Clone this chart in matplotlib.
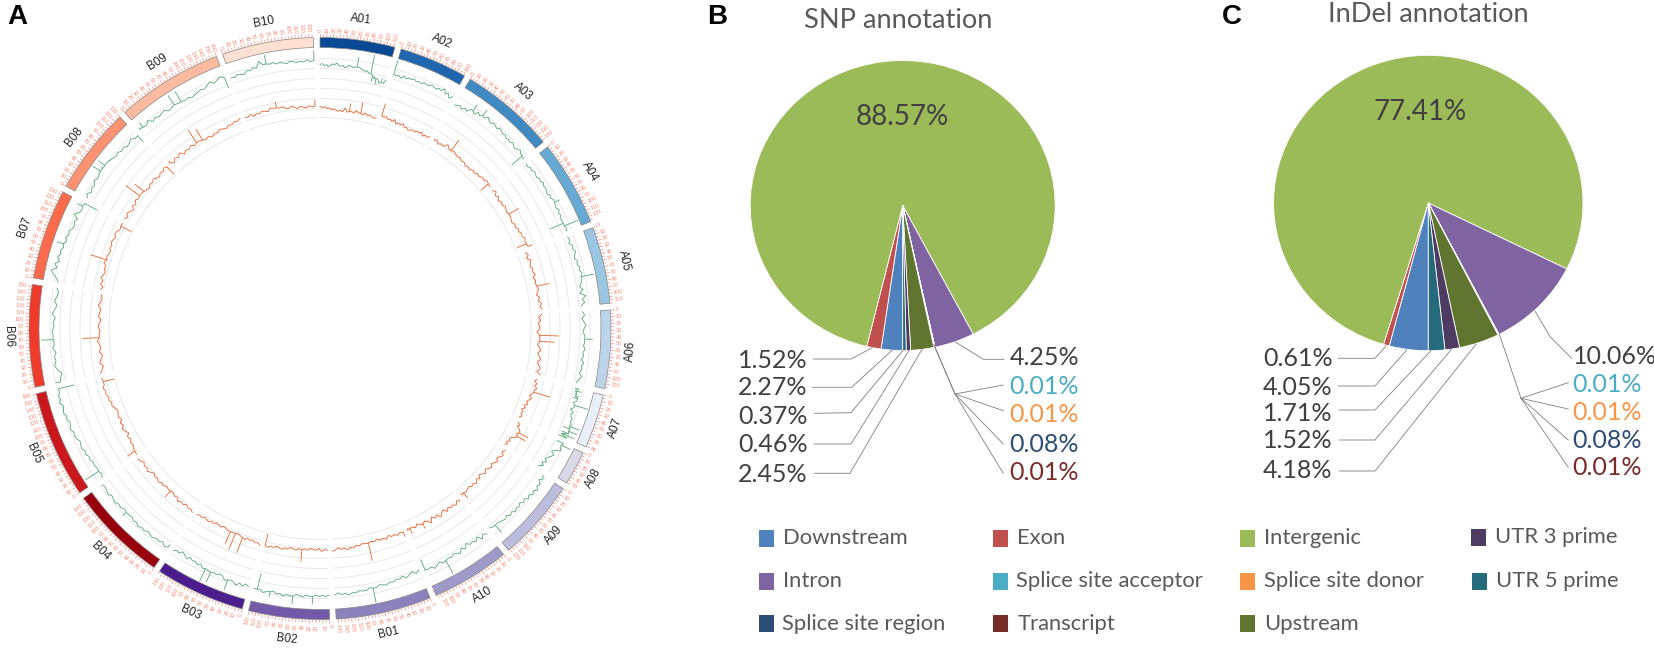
import numpy as np
import matplotlib
matplotlib.use('Agg')
import matplotlib.pyplot as plt

W, H = 1654, 649

# ---- panel A data
chroms = ['A01','A02','A03','A04','A05','A06','A07','A08','A09','A10',
          'B01','B02','B03','B04','B05','B06','B07','B08','B09','B10']
chrom_mb = [112,102,143,128,115,117,81,51,122,117,143,121,135,147,161,153,135,130,160,137]
chrom_cols = ['#0a4a94','#1f66ae','#3f8ac2','#66a9d2','#9bc6e1','#bcd3ea','#e8eefa','#d9d9ea','#bcbddc','#9e9ac8',
              '#8b82bd','#7359a8','#4c1d8c','#99000d','#cb181d','#ef3b2c','#fb6a4a','#fc9272','#fcbba1','#fee0d2']

g_A01 = [264,265,263,264,262,263,265,264,266,264,263,264,262,263,265,264,263,264,274,264,263,262,261,262,260,279,252,258,250,256,252,258,253,257]
g_A02 = [279,264,265,263,266,264,266,265,267,265,266,265,267,266,266,268,267,266,268,267,270,266,268,264,267]
g_A03 = [261,262,263,261,264,262,266,273,264,268,266,275,267,270,268,267,269,268,267,269,268,267,268,266,267,266,268,266,265,267,268,266,252,264]
g_A04 = [264,263,265,264,266,265,264,266,265,267,265,266,265,264,266,265,267,272,266,265,267,265,266,264,265,251,280,266,265]
g_A05 = [264,265,263,266,265,267,265,264,266,265,267,266,268,279,266,265,263,266,262,268,264,266,262]
g_A06 = [263,265,262,264,266,264,263,265,273,265,264,266,264,265,263,266,264,265,263,266,264,262]
g_A07 = [262,269,263,268,262,267,264,280,266,263,267,265,266,268,267,269,279,262,278,263,277,261]
g_A08 = [262,278,268,270,265,262,266,264,262,260,263,259,262,258]
g_A09 = [267,269,266,270,268,271,268,270,267,269,266,268,265,267,266,268,265,267,264,266,265,264,263,273,263,262]
g_A10 = [265,262,266,261,264,262,263,260,264,261,265,263,262,264,263,279,265,262,264,266,263,264,252]
g_B01 = [261,263,260,262,264,261,263,262,264,263,265,264,263,265,280,264,266,266,265,267,266,268,266,267,265,267]
g_B02 = [267,268,267,268,267,276,268,267,269,268,267,277,269,268,270,268,269,267,273,268,270,268,252,268]
g_B03 = [268,266,269,267,270,268,267,278,269,266,265,267,266,278,266,280,267,264,266,264,265,263,266,264,262,265,264,266]
g_B04 = [263,268,265,267,266,268,267,266,268,267,269,267,268,266,267,272,266,268,267,269,268,267,269,268,267,268]
g_B05 = [264,262,279,263,264,263,265,264,266,265,267,266,265,267,268,267,269,268,267,269,268,270,269,268,271,269,270,268,252]
g_B06 = [270,264,262,266,268,266,267,265,268,266,279,267,268,266,267,265,268,266,264,267,265,264,266]
g_B07 = [266,268,272,275,270,273,269,272,270,271,269,277,268,270,268,269,267,266,268,266,271,267,266,273,252]
g_B08 = [267,269,266,268,267,270,268,269,279,272,278,270,269,268,267,268,266,267,265,266,268,265,257]
g_B09 = [268,274,267,270,266,268,266,267,268,265,266,278,267,278,265,266,264,265,266,267,266,268,270,267,269,271,257]
g_B10 = [266,265,267,266,265,268,267,269,268,274,270,279,269,270,268,269,268,267,269,268,267,268,267,269,267,278]

o_A01 = [222,221,222,220,221,219,220,219,218,219,218,222,218,227,219,218,221,219,230,218,220,218,219,218,217,218]
o_A02 = [234,221,222,220,221,219,222,218,220,219,221,218,219,217,218,219,218,220,219,221,218,220,219,221]
o_A03 = [220,222,219,221,220,224,221,234,222,221,220,221,219,220,218,219,218,220,219,221,220,222,221,223,212,222]
o_A04 = [221,223,220,222,219,221,220,222,221,220,232,221,220,219,221,220,222,221,223,222,224,223,213,228]
o_A05 = [219,221,218,222,220,219,221,220,222,219,221,220,234,222,221,219,222,220,223,221,223]
o_A06 = [222,219,221,218,220,219,217,239,220,235,218,220,222,219,221,223,220,222,224,221,225]
o_A07 = [223,221,224,222,225,223,240,222,220,223,221,219,221,218,220,217,219,218,220,218]
o_A08 = [219,222,220,223,225,235,222,234,224,220,219,221,218,220,218]
o_A09 = [222,220,223,221,219,222,220,218,221,219,217,220,218,216,219,217,220,218,219,217,218,219,225,217]
o_A10 = [222,220,223,221,222,220,223,219,221,224,220,222,219,224,221,219,226,220,218,221,219,225,218]
o_B01 = [225,219,221,219,220,218,221,219,220,218,220,219,238,220,219,221,220,222,221,223,221,222,220,222,223]
o_B02 = [222,221,223,220,222,221,220,222,221,234,221,223,222,221,223,222,224,223,222,224,223,225,212]
o_B03 = [225,223,224,222,223,222,224,239,222,221,239,222,235,222,221,220,222,221,220,222,221,223,222,221,223,222,223]
o_B04 = [224,222,223,221,223,222,224,221,222,220,229,221,220,222,221,223,221,222,220,222,224,222,223,221,223,224]
o_B05 = [223,231,222,220,221,219,221,218,220,222,219,221,218,220,219,218,220,222,221,223,222,224,223,225,223,212,224]
o_B06 = [224,222,220,223,221,219,222,220,221,223,238,221,220,222,221,219,222,221,220,223,221,220,221]
o_B07 = [223,221,224,222,225,223,222,224,223,226,241,225,224,223,225,224,226,225,224,226,225,223,212,224]
o_B08 = [224,222,225,223,221,224,222,225,223,241,224,235,222,221,223,222,224,222,221,223,222,224,212]
o_B09 = [226,221,224,222,225,221,223,222,224,222,238,223,235,221,222,220,222,221,223,222,221,223,222,224,223,225]
o_B10 = [224,223,225,222,224,223,225,224,223,226,225,231,224,225,223,222,224,223,221,223,222,221,223,222,229]

green_tracks = [g_A01,g_A02,g_A03,g_A04,g_A05,g_A06,g_A07,g_A08,g_A09,g_A10,
                g_B01,g_B02,g_B03,g_B04,g_B05,g_B06,g_B07,g_B08,g_B09,g_B10]
orange_tracks = [o_A01,o_A02,o_A03,o_A04,o_A05,o_A06,o_A07,o_A08,o_A09,o_A10,
                 o_B01,o_B02,o_B03,o_B04,o_B05,o_B06,o_B07,o_B08,o_B09,o_B10]
grid_r = [211,220,230,240,250,260,270]

# ---- panels B and C data
pie_names = ['Downstream','Exon','Intergenic','Intron','Splice site acceptor','Splice site donor',
             'Splice site region','Transcript','Upstream','UTR 3 prime','UTR 5 prime']
pie_cols = ['#4f81bd','#c0504d','#9bbb59','#8064a2','#4bacc6','#f79646',
            '#2c4d75','#772c2a','#5f7530','#4d3b62','#276a7c']
snp_vals = [2.27,1.52,88.57,4.25,0.01,0.01,0.08,0.01,2.45,0.46,0.37]
indel_vals = [4.05,0.61,77.41,10.06,0.01,0.01,0.08,0.01,4.18,1.52,1.71]

dark = '#404040'
gray_txt = '#595959'

fig = plt.figure(figsize=(W/100, H/100), dpi=100)

# panel A, r on this axes is in pixels
cx, cy, R = 320, 328.5, 320
ax = fig.add_axes([(cx-R)/W, 1-(cy+R)/H, 2*R/W, 2*R/H], projection='polar')
ax.set_theta_zero_location('N')
ax.set_theta_direction(-1)
ax.set_rlim(0, R)
ax.set_axis_off()


def draw_track(vals, a0, a1, col):
    # spikes go straight out from the local level as thin radial lines
    th = np.radians(np.linspace(a0, a1, len(vals)))
    v = np.array(vals, dtype=float)
    level = v.copy()
    spikes = []
    for i in range(len(v)):
        nb = v[max(i-1, 0):i].tolist() + v[i+1:i+2].tolist()
        d = v[i] - np.array(nb)
        if np.all(d >= 5) or np.all(d <= -5):
            level[i] = np.median(v[max(i-3, 0):i+4])
            spikes.append(i)
    ax.plot(th, level, color=col, lw=0.6, zorder=2)
    ax.vlines(th[spikes], level[spikes], v[spikes], color=col, lw=0.6, zorder=2)


gap = 1.3
scale = (360 - gap*len(chroms))/sum(chrom_mb)
start = 0.0
for name, mb, col, gv, ov in zip(chroms, chrom_mb, chrom_cols, green_tracks, orange_tracks):
    end = start + mb*scale
    mid = (start+end)/2
    th = np.radians(np.linspace(start, end, 50))
    for r in grid_r:
        ax.plot(th, [r]*len(th), color='#e8e8e8', lw=0.7, zorder=1)
    ax.bar(np.radians(mid), 10, width=np.radians(end-start), bottom=281, color=col,
           edgecolor='#858585', lw=0.5, zorder=3)
    draw_track(gv, start, end, '#55a878')
    draw_track(ov, start, end, '#e8652e')

    # scale around the band
    for t in range(0, mb+1, 5):
        a = start + t*scale
        major = t % 10 == 0
        ax.plot([np.radians(a)]*2, [292, 294.5 if major else 293.5], color='#f79a8a', lw=0.6, zorder=2)
        if major:
            if a < 180:
                rot, ha = 90-a, 'left'
            else:
                rot, ha = 270-a, 'right'
            ax.text(np.radians(a), 296, str(t), fontsize=4, color='#f68c7a', rotation=rot, ha=ha, va='center',
                    rotation_mode='anchor', family='Liberation Sans')

    if mid < 90:
        rot = -mid
    elif mid < 270:
        rot = 180-mid
    else:
        rot = 360-mid
    ax.text(np.radians(mid), 312, name, fontsize=8.5, color='#222222', rotation=rot, ha='center', va='center',
            rotation_mode='anchor', family='Liberation Sans')
    start = end + gap


def draw_pie(vals, px, py, rx, ry):
    a = fig.add_axes([(px-rx)/W, 1-(py+ry)/H, 2*rx/W, 2*ry/H])
    a.pie(vals, colors=pie_cols, startangle=270, counterclock=False,
          wedgeprops={'edgecolor':'white', 'lw':0.6, 'clip_on':False})
    a.set_aspect('auto')
    a.set_xlim(-1, 1)
    a.set_ylim(-1, 1)


draw_pie(snp_vals, 902.7, 205.5, 152.5, 145)
draw_pie(indel_vals, 1428.3, 203, 154.7, 147.7)

# overlay in pixel coordinates for texts, leaders and legend
top = fig.add_axes([0, 0, 1, 1], facecolor='none')
top.set_xlim(0, W)
top.set_ylim(H, 0)
top.axis('off')

for s, x, y in [('A', 7, 17), ('B', 707, 17.5), ('C', 1222, 17)]:
    top.text(x, y, s, fontsize=20, fontweight='bold', family='Liberation Sans', color='black', ha='left', va='center')

top.text(898, 20, 'SNP annotation', fontsize=19.6, color=gray_txt, family='Lato', ha='center', va='center')
top.text(1428, 15, 'InDel annotation', fontsize=19.6, color=gray_txt, family='Lato', ha='center', va='center')
top.text(902, 117, '88.57%', fontsize=20, color=dark, family='Lato', ha='center', va='center')
top.text(1420, 112, '77.41%', fontsize=20, color=dark, family='Lato', ha='center', va='center')

label_cols = [dark, '#4bacc6', '#f79646', '#2c4d75', '#772c2a']

snp_left = ['1.52%','2.27%','0.37%','0.46%','2.45%']
snp_right = ['4.25%','0.01%','0.01%','0.08%','0.01%']
indel_left = ['0.61%','4.05%','1.71%','1.52%','4.18%']
indel_right = ['10.06%','0.01%','0.01%','0.08%','0.01%']

for s, y in zip(snp_left, [360,387.3,416,444.3,474.3]):
    top.text(807.7, y, s, fontsize=18, color=dark, family='Lato', ha='right', va='center')
for s, y, c in zip(snp_right, [357.7,386,415,444.3,472.7], label_cols):
    top.text(1009.3, y, s, fontsize=18, color=c, family='Lato', ha='left', va='center')
for s, y in zip(indel_left, [359,387.3,413.3,441,471]):
    top.text(1332.7, y, s, fontsize=18, color=dark, family='Lato', ha='right', va='center')
for s, y, c in zip(indel_right, [356.7,384,412.3,440.7,467.7], label_cols):
    top.text(1572.7, y, s, fontsize=18, color=c, family='Lato', ha='left', va='center')

leaders = [
    [(872.3,347.7),(851,359),(813.3,359)],
    [(892.3,350),(851.7,387.3),(812.7,387.3)],
    [(903.3,350),(851,412.7),(814.3,413.3)],
    [(909.3,350),(851,444),(814.3,444)],
    [(922,349.3),(850,473.3),(814.3,473.3)],
    [(955,341.7),(983.3,359.3),(1004,359.3)],
    [(934,345),(955,394),(1003.3,385)],
    [(955,394),(1003.3,410.7)],
    [(955,394),(1003.3,444)],
    [(934,345),(955,394),(1003.3,473.3)],
    [(1386,346),(1375,358.3),(1338.3,358.3)],
    [(1406.7,350),(1375,386),(1338.3,386)],
    [(1431,350.7),(1375,410),(1339.3,410)],
    [(1451.7,349),(1375,440),(1339.3,440)],
    [(1476,344.3),(1375,471),(1339.3,471)],
    [(1535,311),(1550,336.7),(1571.7,358.3)],
    [(1499.3,334),(1521,398.3),(1568.3,382.7)],
    [(1521,398.3),(1568.3,409)],
    [(1521,398.3),(1568.3,440)],
    [(1521,398.3),(1568.3,467.3)],
]
for pts in leaders:
    xs, ys = zip(*pts)
    top.plot(xs, ys, color='#7f7f7f', lw=0.6)

# legend, drawn by hand because of its uneven columns
leg_x = {'Downstream':(759,782.7,538),'Intron':(759,782.7,581),'Splice site region':(759,782,623.7),
         'Exon':(993.3,1017.3,538),'Splice site acceptor':(993.3,1016.5,581),'Transcript':(993.3,1017.3,623.7),
         'Intergenic':(1240,1264,538),'Splice site donor':(1240,1263.5,581),'Upstream':(1240,1264,623.7),
         'UTR 3 prime':(1471,1495,537),'UTR 5 prime':(1471.7,1495.5,581)}
for name, col in zip(pie_names, pie_cols):
    sx, tx, ty = leg_x[name]
    top.fill_between([sx, sx+15], ty-8.5, ty+8.5, color=col, lw=0)
    top.text(tx, ty, name, fontsize=15.8, color=gray_txt, family='Lato', ha='left', va='center')

fig.savefig('out.png', dpi=100)
